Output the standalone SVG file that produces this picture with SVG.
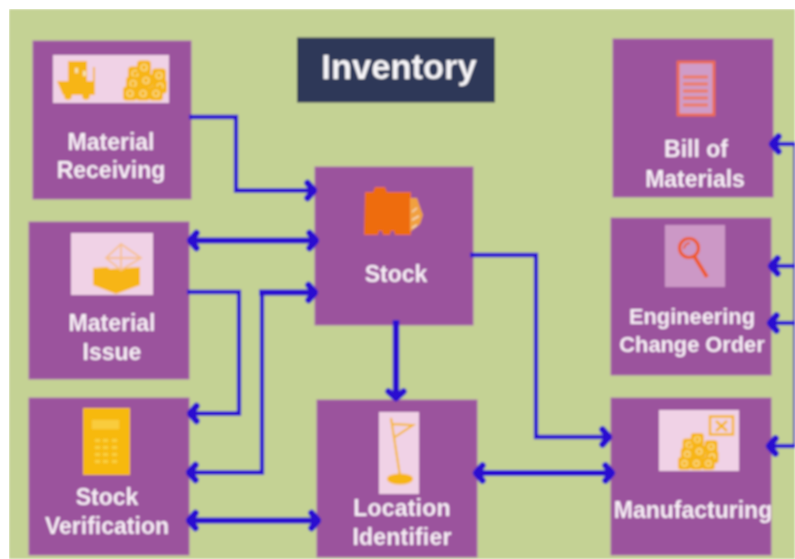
<svg xmlns="http://www.w3.org/2000/svg" xmlns:xlink="http://www.w3.org/1999/xlink" width="795" height="559" viewBox="0 0 795 559">
<style>
.n{fill:#9b539d;stroke:#a86cab;stroke-width:1}
.p{fill:#f0d2e6}
.y{fill:#f7b516}
.ys{fill:none;stroke:#f7b516}
.t{font-family:"Liberation Sans",Arial,sans-serif;font-weight:bold;font-size:23px;fill:#f7eef6;text-anchor:middle}
.e{font-size:21.800px}
.l{letter-spacing:.2px}
.c{fill:none;stroke:#2a08d0;stroke-linejoin:miter}
.s3{stroke-width:4.300}
.s5{stroke-width:6}
</style>
<defs>
<filter id="b" x="0" y="0" width="1" height="1"><feGaussianBlur stdDeviation="0.8"/></filter>
<marker id="a" markerUnits="userSpaceOnUse" markerWidth="14" markerHeight="22" refX="7" refY="11" orient="auto-start-reverse" overflow="visible">
<path d="M3.500 3.500L10 11L3.500 18.500" fill="none" stroke="#2a08d0" stroke-width="6.500" stroke-linecap="round" stroke-linejoin="round"/>
</marker>
<g id="bale">
<rect width="14" height="14" rx="3.500" fill="#f7b516"/>
<circle cx="7" cy="7" r="3" fill="none" stroke="#fbe3a0" stroke-width="1.200"/>
</g>
<g id="pile">
<use xlink:href="#bale" x="5" y="6"/><use xlink:href="#bale" x="14" y="0"/><use xlink:href="#bale" x="29" y="8"/>
<use xlink:href="#bale" x="3" y="16"/><use xlink:href="#bale" x="16" y="13"/><use xlink:href="#bale" x="30" y="19"/>
<use xlink:href="#bale" x="0" y="26"/><use xlink:href="#bale" x="13" y="26"/><use xlink:href="#bale" x="26" y="26"/>
</g>
</defs>
<rect width="795" height="559" fill="#fff"/>
<g filter="url(#b)">
<rect x="9" y="9" width="786" height="550" fill="#c4d294"/>

<g id="title"><rect x="297" y="37.500" width="198" height="65" fill="#2e3858"/><text x="399" y="79" font-family="'Liberation Sans',Arial,sans-serif" font-weight="bold" font-size="34.500" fill="#f7f5f8" text-anchor="middle">Inventory</text></g>

<g id="material-receiving"><rect class="n" x="33" y="41" width="158" height="158"/><rect class="p" x="53" y="55" width="116" height="48"/>
<path class="y" d="M68 61h19v20h-19z"/><path d="M75 68h3v5h-3zM83 71h3v5h-3z" fill="#f5e2b0"/><path class="y" d="M57 81h36v14H63z"/><circle class="y" cx="68" cy="96" r="3.800"/><circle class="y" cx="86" cy="96" r="3.800"/><path class="ys" d="M94 67v28" stroke-width="1.800"/>
<g transform="translate(123,60.500)"><use xlink:href="#pile"/></g>
<text class="t" x="111" y="150">Material</text><text class="t" x="111" y="178">Receiving</text></g>

<g id="material-issue"><rect class="n" x="29" y="222" width="160" height="157"/><rect class="p" x="71" y="233" width="82" height="62"/>
<path class="y" d="M93 268l14-1 3 2 30-2v18l-24 9-23-9z"/><path d="M106 258l15-14 20 14-20 12zM121 244v26M106 258h35" fill="none" stroke="#f7c090" stroke-width="1.800"/>
<text class="t" x="112" y="331">Material</text><text class="t" x="112" y="360">Issue</text></g>

<g id="stock-verification"><rect class="n" x="29" y="398" width="160" height="157"/><rect x="83" y="408" width="47" height="67" fill="#f7b90f"/>
<rect x="92" y="420" width="27" height="9" fill="#f9cc3c"/>
<g fill="#f9d040"><rect x="95" y="439" width="5" height="3"/><rect x="103" y="439" width="5" height="3"/><rect x="112" y="439" width="5" height="3"/><rect x="95" y="446" width="5" height="3"/><rect x="103" y="446" width="5" height="3"/><rect x="112" y="446" width="5" height="3"/><rect x="95" y="453" width="5" height="3"/><rect x="103" y="453" width="5" height="3"/><rect x="112" y="453" width="5" height="3"/><rect x="95" y="460" width="5" height="3"/><rect x="103" y="460" width="5" height="3"/><rect x="112" y="460" width="5" height="3"/></g>
<text class="t" x="107" y="505">Stock</text><text class="t" x="107" y="534">Verification</text></g>

<g id="stock"><rect class="n" x="315" y="167" width="158" height="158"/>
<path d="M365 192h8l2-5h10l2 5h24v43h-16l-1-4h-3l-1 4h-7l-1-4h-3l-1 4h-14z" fill="#ee6c08"/>
<path d="M410 198l7 0 3 9 3 8-3 9-10 8z" fill="#f0a040"/><path d="M412 212l5-4M412 220l7-4M412 228l5-3" stroke="#f4dcc0" stroke-width="1.500" fill="none"/>
<text class="t" x="396" y="282">Stock</text></g>

<g id="location-identifier"><rect class="n" x="317" y="400" width="160" height="157"/><rect class="p" x="379" y="412" width="40" height="82"/><path class="ys" stroke-width="2" d="M391 418l9 58M392 424l21 1-18 12"/><ellipse class="y" cx="400" cy="479" rx="13" ry="5.500"/>
<text class="t l" x="402" y="516">Location</text><text class="t l" x="402" y="545">Identifier</text></g>

<g id="bill-of-materials"><rect class="n" x="613" y="39" width="160" height="158"/><rect x="678" y="62" width="36" height="53" fill="#cf9cc8" stroke="#ef6a50" stroke-width="2.800"/>
<path d="M683 77h25M683 84h25M683 91h25M683 98h25M683 105h25" stroke="#ef7a60" stroke-width="3" fill="none"/>
<text class="t" x="696" y="157">Bill of</text><text class="t" x="695" y="187">Materials</text></g>

<g id="engineering-change-order"><rect class="n" x="611" y="218" width="160" height="157"/><rect x="665" y="225" width="60" height="62" fill="#cc98c6"/>
<circle cx="689" cy="248" r="9.500" fill="none" stroke="#ef5a28" stroke-width="3.200"/><path d="M694 256l13 21" stroke="#ef5a28" stroke-width="3.800" fill="none"/><path d="M684 249a6 6 0 0 1 6-6" stroke="#ef5a28" stroke-width="1.800" fill="none"/>
<text class="t e" x="692" y="324">Engineering</text><text class="t e" x="692" y="352">Change Order</text></g>

<g id="manufacturing"><rect class="n" x="611" y="398" width="160" height="157"/><rect class="p" x="659" y="410" width="80" height="61"/>
<rect x="710" y="416.500" width="23" height="18" fill="none" stroke="#f7b516" stroke-width="2.400"/><path d="M716 421l11 10M727 421l-11 10" stroke="#f7b516" stroke-width="2.400" fill="none"/>
<g transform="translate(678,433) scale(.92)"><use xlink:href="#pile"/></g>
<text class="t" x="693" y="518">Manufacturing</text></g>

<g id="connectors">
<path class="c s3" marker-end="url(#a)" d="M189 117H236V190.500H311"/>
<path class="c s5" marker-start="url(#a)" marker-end="url(#a)" d="M193 240.500H313"/>
<path class="c s3" marker-end="url(#a)" d="M187 292H239V413.500H193"/>
<path class="c s5" marker-end="url(#a)" d="M259 292.500H312"/>
<path class="c s3" marker-end="url(#a)" d="M262 292V472.500H192"/>
<path class="c s5" marker-start="url(#a)" marker-end="url(#a)" d="M192 520.500H315"/>
<path class="c" stroke-width="6.500" marker-end="url(#a)" d="M396 320V395"/>
<path class="c s3" marker-end="url(#a)" d="M470 255H536V437H606"/>
<path class="c s5" marker-start="url(#a)" marker-end="url(#a)" d="M479 473H609"/>
<path style="fill:none;stroke:#5a4aa8;stroke-width:2" d="M794 144V446"/>
<path class="c s3" marker-end="url(#a)" d="M795 144H775"/>
<path class="c s3" marker-end="url(#a)" d="M795 266H774"/>
<path class="c s3" marker-end="url(#a)" d="M795 323H773"/>
<path class="c s3" marker-end="url(#a)" d="M795 446H772"/>
</g>
</g>
</svg>
